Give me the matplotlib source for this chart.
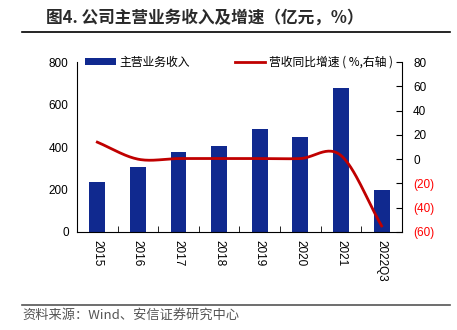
import numpy as np
import matplotlib
matplotlib.use('Agg')
import matplotlib.pyplot as plt
from matplotlib.ticker import FuncFormatter

plt.rcParams['font.family'] = ['Liberation Sans', 'Noto Sans CJK SC', 'DejaVu Sans']

years = ['2015', '2016', '2017', '2018', '2019', '2020', '2021', '2022Q3']
revenue = [236, 305, 376, 404, 483, 448, 680, 197]
growth = [14, 0, 0.5, 0.5, 0.5, 0.5, 3, -55]

bar_color = '#10298F'
line_color = '#C00000'


def smooth(x, y, n=30):
    # catmull-rom curve through the points, like the excel smoothed line
    x = np.asarray(x, float)
    y = np.asarray(y, float)
    px = np.r_[2 * x[0] - x[1], x, 2 * x[-1] - x[-2]]
    py = np.r_[2 * y[0] - y[1], y, 2 * y[-1] - y[-2]]
    xs, ys = [], []
    t = np.linspace(0, 1, n)
    for i in range(1, len(px) - 2):
        for p, out in ((px, xs), (py, ys)):
            p0, p1, p2, p3 = p[i - 1], p[i], p[i + 1], p[i + 2]
            out.extend(0.5 * (2 * p1 + (-p0 + p2) * t + (2 * p0 - 5 * p1 + 4 * p2 - p3) * t ** 2
                              + (-p0 + 3 * p1 - 3 * p2 + p3) * t ** 3))
    return np.array(xs), np.array(ys)


fig = plt.figure(figsize=(4.57, 3.30), dpi=100)
ax = fig.add_axes([0.1685, 0.297, 0.711, 0.515])
ax2 = ax.twinx()

x = np.arange(len(years))
bars = ax.bar(x, revenue, width=0.39, color=bar_color, label='主营业务收入', zorder=2)
sx, sy = smooth(x, growth)
line, = ax2.plot(sx, sy, color=line_color, lw=2, label='营收同比增速 ( %,右轴 )')

ax.set_xlim(-0.5, len(years) - 0.5)
ax.set_ylim(0, 800)
ax.set_yticks([0, 200, 400, 600, 800])
ax2.set_ylim(-60, 80)
ax2.set_yticks(range(-60, 81, 20))
ax2.yaxis.set_major_formatter(FuncFormatter(lambda v, p: '(%d)' % -v if v < 0 else '%d' % v))
for lab, v in zip(ax2.get_yticklabels(), range(-60, 81, 20)):
    if v < 0:
        lab.set_color('red')

ax.set_xticks(x)
ax.set_xticklabels(years, rotation=-90, fontsize=8.5)
ax.set_xticks(np.arange(-0.5, len(years), 1), minor=True)
ax.tick_params(axis='x', which='major', length=0, pad=6)
ax.tick_params(axis='x', which='minor', direction='in', length=4)
ax.tick_params(axis='y', length=0, labelsize=8.5, pad=6)
ax2.tick_params(axis='y', direction='in', length=4, labelsize=8.5, pad=8)

for a in (ax, ax2):
    a.spines['top'].set_visible(False)
ax2.spines['left'].set_visible(False)
ax2.spines['bottom'].set_visible(False)
ax.spines['right'].set_visible(False)

fig.legend(handles=[bars, line], loc='center left', bbox_to_anchor=(0.173, 0.812), ncol=2,
           frameon=False, borderpad=0, handlelength=2.6, handleheight=0.5, columnspacing=3.8,
           handletextpad=0.3, prop={'family': ['Noto Sans CJK SC', 'DejaVu Sans'], 'size': 8.5})

fig.text(0.1, 0.945, '图4. 公司主营业务收入及增速（亿元，%）', fontsize=12, fontweight='bold',
         color='#2a2a2a', va='center', family=['Noto Sans CJK SC', 'DejaVu Sans'])
fig.add_artist(plt.Line2D([0.048, 0.985], [0.903, 0.903], color='black', lw=1.2))
fig.add_artist(plt.Line2D([0.048, 0.985], [0.077, 0.077], color='#555555', lw=1.2))
fig.text(0.05, 0.045, '资料来源：Wind、安信证券研究中心', fontsize=9.5, style='italic',
         color='#555555', va='center', family=['Noto Sans CJK SC', 'DejaVu Sans'])

fig.savefig('out.png', dpi=100)
